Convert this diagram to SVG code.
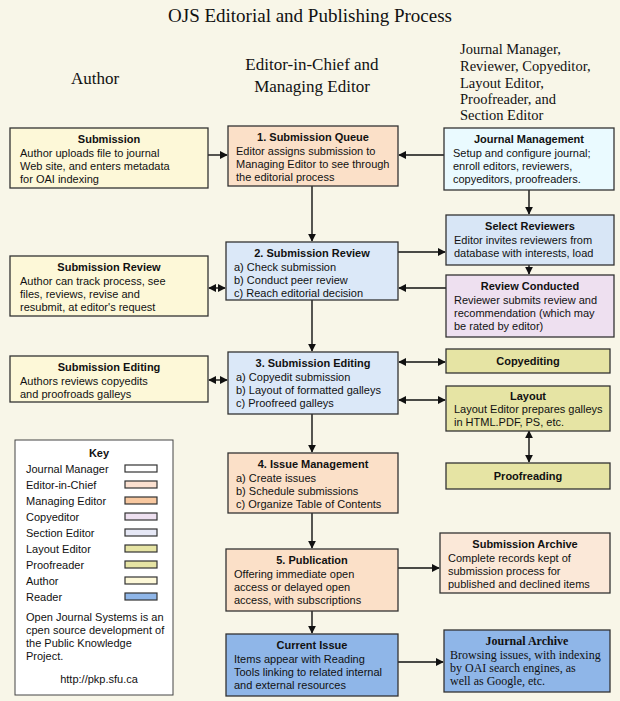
<svg xmlns="http://www.w3.org/2000/svg" width="620" height="701" viewBox="0 0 620 701">
<defs>
<marker id="ah" viewBox="0 0 10 10" refX="9" refY="5" markerWidth="8" markerHeight="8" orient="auto-start-reverse" markerUnits="userSpaceOnUse"><path d="M0,0L10,5L0,10z" fill="#111"/></marker>
<style>
.b{stroke:#333;stroke-width:1.3}
.s{font-family:"Liberation Serif",serif;fill:#111}
.t{font-family:"Liberation Sans",Arial,sans-serif;font-size:11px;fill:#111}
.h{font-weight:bold;text-anchor:middle}
.c line{stroke:#111;stroke-width:1.4;marker-end:url(#ah)}
.c line.d{marker-start:url(#ah)}
.k{stroke:#333;stroke-width:1.2}
</style>
</defs>
<rect width="620" height="701" fill="#f8f6e8"/>
<text class="s" x="310" y="22" text-anchor="middle" font-size="19">OJS Editorial and Publishing Process</text>
<text class="s" x="95" y="84" text-anchor="middle" font-size="17">Author</text>
<text class="s" x="312" y="70" text-anchor="middle" font-size="17">Editor-in-Chief and</text>
<text class="s" x="312" y="92" text-anchor="middle" font-size="17">Managing Editor</text>
<g class="s" font-size="14.5"><text x="460" y="54">Journal Manager,</text><text x="460" y="71">Reviewer, Copyeditor,</text><text x="460" y="88">Layout Editor,</text><text x="460" y="104">Proofreader, and</text><text x="460" y="120">Section Editor</text></g>

<g class="c">
<line x1="208" y1="155" x2="227" y2="155"/>
<line x1="444" y1="155" x2="399" y2="155"/>
<line x1="312" y1="186" x2="312" y2="241"/>
<line x1="529" y1="190" x2="529" y2="214"/>
<line x1="398" y1="252" x2="445" y2="252"/>
<line x1="529" y1="265" x2="529" y2="274"/>
<line x1="446" y1="288" x2="399" y2="288"/>
<line class="d" x1="209" y1="288" x2="225" y2="288"/>
<line x1="312" y1="300" x2="312" y2="351"/>
<line class="d" x1="209" y1="380" x2="227" y2="380"/>
<line class="d" x1="399" y1="362" x2="445" y2="362"/>
<line class="d" x1="399" y1="400" x2="445" y2="400"/>
<line class="d" x1="529" y1="431" x2="529" y2="462"/>
<line x1="312" y1="414" x2="312" y2="452"/>
<line x1="312" y1="513" x2="312" y2="548"/>
<line x1="398" y1="568" x2="439" y2="568"/>
<line x1="312" y1="611" x2="312" y2="633"/>
<line x1="398" y1="662" x2="443" y2="662"/>
</g>

<g id="sub-author"><rect class="b" x="10" y="128" width="198" height="60" fill="#fdf8d8"/>
<text class="t h" x="109" y="143">Submission</text>
<text class="t" x="20" y="157">Author uploads file to journal</text><text class="t" x="20" y="170">Web site, and enters metadata</text><text class="t" x="20" y="183">for OAI indexing</text></g>

<g id="queue"><rect class="b" x="228" y="126" width="170" height="60" fill="#fbe0c8"/>
<text class="t h" x="313" y="141">1. Submission Queue</text>
<text class="t" x="236" y="155">Editor assigns submission to</text><text class="t" x="236" y="168">Managing Editor to see through</text><text class="t" x="236" y="181">the editorial process</text></g>

<g id="jm"><rect class="b" x="444" y="128" width="170" height="62" fill="#eafaff"/>
<text class="t h" x="529" y="143">Journal Management</text>
<text class="t" x="453" y="157">Setup and configure journal;</text><text class="t" x="453" y="170">enroll editors, reviewers,</text><text class="t" x="453" y="183">copyeditors, proofreaders.</text></g>

<g id="selrev"><rect class="b" x="446" y="215" width="168" height="50" fill="#d8e6f6"/>
<text class="t h" x="530" y="230">Select Reviewers</text>
<text class="t" x="454" y="244">Editor invites reviewers from</text><text class="t" x="454" y="257">database with interests, load</text></g>

<g id="revcon"><rect class="b" x="446" y="275" width="168" height="62" fill="#eee0f0"/>
<text class="t h" x="530" y="290">Review Conducted</text>
<text class="t" x="454" y="304">Reviewer submits review and</text><text class="t" x="454" y="317">recommendation (which may</text><text class="t" x="454" y="330">be rated by editor)</text></g>

<g id="review"><rect class="b" x="226" y="242" width="172" height="58" fill="#dbe8f8"/>
<text class="t h" x="312" y="257">2. Submission Review</text>
<text class="t" x="234" y="271">a) Check submission</text><text class="t" x="234" y="284">b) Conduct peer review</text><text class="t" x="234" y="297">c) Reach editorial decision</text></g>

<g id="rev-author"><rect class="b" x="10" y="256" width="198" height="60" fill="#fdf8d8"/>
<text class="t h" x="109" y="271">Submission Review</text>
<text class="t" x="20" y="285">Author can track process, see</text><text class="t" x="20" y="298">files, reviews, revise and</text><text class="t" x="20" y="311">resubmit, at editor's request</text></g>

<g id="edit-author"><rect class="b" x="10" y="356" width="198" height="46" fill="#fdf8d8"/>
<text class="t h" x="109" y="371">Submission Editing</text>
<text class="t" x="20" y="385">Authors reviews copyedits</text><text class="t" x="20" y="398">and proofroads galleys</text></g>

<g id="editing"><rect class="b" x="228" y="352" width="170" height="62" fill="#dbe8f8"/>
<text class="t h" x="313" y="367">3. Submission Editing</text>
<text class="t" x="236" y="381">a) Copyedit submission</text><text class="t" x="236" y="394">b) Layout of formatted galleys</text><text class="t" x="236" y="407">c) Proofreed galleys</text></g>

<g id="copyedit"><rect class="b" x="446" y="349" width="164" height="24" fill="#e6e4a4"/>
<text class="t h" x="528" y="365">Copyediting</text></g>

<g id="layout"><rect class="b" x="446" y="386" width="164" height="45" fill="#e6e4a4"/>
<text class="t h" x="528" y="400">Layout</text>
<text class="t" x="454" y="413">Layout Editor prepares galleys</text><text class="t" x="454" y="426">in HTML.PDF, PS, etc.</text></g>

<g id="proof"><rect class="b" x="446" y="463" width="164" height="26" fill="#e6e4a4"/>
<text class="t h" x="528" y="480">Proofreading</text></g>

<g id="issue"><rect class="b" x="228" y="453" width="170" height="60" fill="#fbe0c8"/>
<text class="t h" x="313" y="468">4. Issue Management</text>
<text class="t" x="236" y="482">a) Create issues</text><text class="t" x="236" y="495">b) Schedule submissions</text><text class="t" x="236" y="508">c) Organize Table of Contents</text></g>

<g id="pub"><rect class="b" x="226" y="549" width="172" height="62" fill="#fbe0c8"/>
<text class="t h" x="312" y="564">5. Publication</text>
<text class="t" x="234" y="578">Offering immediate open</text><text class="t" x="234" y="591">access or delayed open</text><text class="t" x="234" y="604">access, with subscriptions</text></g>

<g id="subarch"><rect class="b" x="440" y="533" width="170" height="60" fill="#fbe8d8"/>
<text class="t h" x="525" y="548">Submission Archive</text>
<text class="t" x="448" y="562">Complete records kept of</text><text class="t" x="448" y="575">submission process for</text><text class="t" x="448" y="588">published and declined items</text></g>

<g id="current"><rect class="b" x="226" y="634" width="172" height="62" fill="#8fb6e8"/>
<text class="t h" x="312" y="649">Current Issue</text>
<text class="t" x="234" y="663">Items appear with Reading</text><text class="t" x="234" y="676">Tools linking to related internal</text><text class="t" x="234" y="689">and external resources</text></g>

<g id="jarch"><rect class="b" x="444" y="630" width="166" height="62" fill="#8fb6e8"/>
<text class="s" x="527" y="645" text-anchor="middle" font-size="12" font-weight="bold">Journal Archive</text>
<g class="s" font-size="12"><text x="450" y="659">Browsing issues, with indexing</text><text x="450" y="672">by OAI search engines, as</text><text x="450" y="685">well as Google, etc.</text></g></g>

<g id="key"><rect x="15" y="440" width="158" height="255" fill="#fff" stroke="#444" stroke-width="1"/>
<text class="t h" x="99" y="457">Key</text>
<g class="t"><text x="26" y="473">Journal Manager</text><text x="26" y="489">Editor-in-Chief</text><text x="26" y="505">Managing Editor</text><text x="26" y="521">Copyeditor</text><text x="26" y="537">Section Editor</text><text x="26" y="553">Layout Editor</text><text x="26" y="569">Proofreader</text><text x="26" y="585">Author</text><text x="26" y="601">Reader</text>
<text x="26" y="621">Open Journal Systems is an</text><text x="26" y="634">cpen source development of</text><text x="26" y="647">the Public Knowledge</text><text x="26" y="660">Project.</text>
<text x="99" y="683" text-anchor="middle">http://pkp.sfu.ca</text></g>
<rect class="k" x="125" y="465" width="32" height="7" fill="#fff"/>
<rect class="k" x="125" y="481" width="32" height="7" fill="#fbe0d0"/>
<rect class="k" x="125" y="497" width="32" height="7" fill="#f8c8a0"/>
<rect class="k" x="125" y="513" width="32" height="7" fill="#eee0f0"/>
<rect class="k" x="125" y="529" width="32" height="7" fill="#e6e8f6"/>
<rect class="k" x="125" y="545" width="32" height="7" fill="#e6e4a4"/>
<rect class="k" x="125" y="561" width="32" height="7" fill="#e6e4a4"/>
<rect class="k" x="125" y="577" width="32" height="7" fill="#fdf8d8"/>
<rect class="k" x="125" y="593" width="32" height="7" fill="#8fb6e8"/>
</g>
</svg>
